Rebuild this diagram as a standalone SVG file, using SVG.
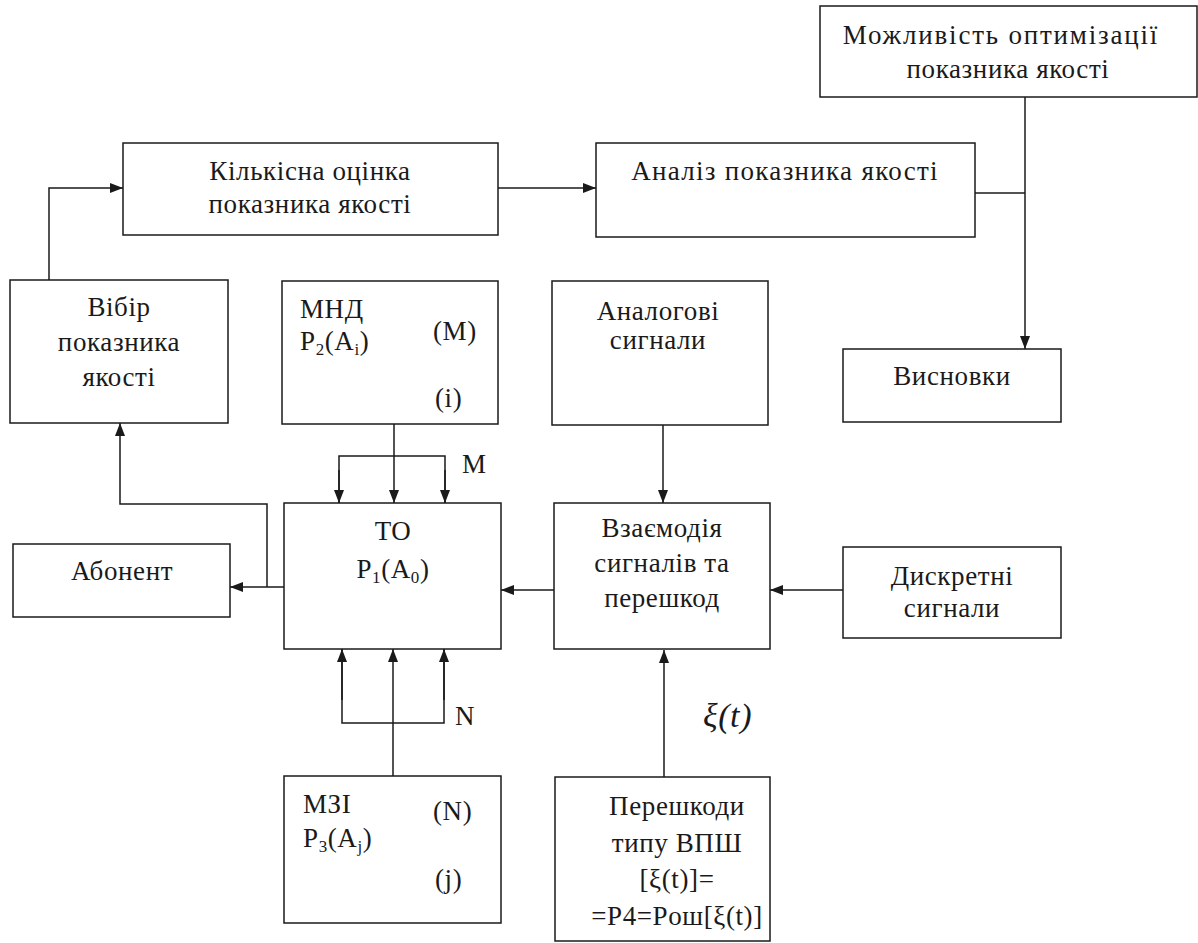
<svg xmlns="http://www.w3.org/2000/svg" width="1198" height="943" viewBox="0 0 1198 943">
<style>
.box{fill:#fff;stroke:#1a1a1a;stroke-width:1.5}
.ln{fill:none;stroke:#1a1a1a;stroke-width:1.5}
text{font-family:'Liberation Serif','DejaVu Serif','Noto Serif',serif;font-size:27px;fill:#1a1a1a;letter-spacing:0.6px}
.c{text-anchor:middle}
.sub{font-size:17px}
.wide{letter-spacing:1.8px}
</style>
<defs>
<marker id="ah" markerUnits="userSpaceOnUse" markerWidth="13" markerHeight="10" refX="13" refY="5" orient="auto">
<path d="M0,0 L13,5 L0,10 z" fill="#1a1a1a"/>
</marker>
</defs>
<rect width="1198" height="943" fill="#fff"/>
<g id="connectors">
<polyline class="ln" points="49,280 49,188 123,188" marker-end="url(#ah)"/>
<line class="ln" x1="498" y1="188" x2="596" y2="188" marker-end="url(#ah)"/>
<line class="ln" x1="975" y1="193" x2="1025" y2="193"/>
<line class="ln" x1="1025" y1="97" x2="1025" y2="349" marker-end="url(#ah)"/>
<line class="ln" x1="663" y1="425" x2="663" y2="503" marker-end="url(#ah)"/>
<line class="ln" x1="843" y1="590" x2="770" y2="590" marker-end="url(#ah)"/>
<line class="ln" x1="554" y1="590" x2="501" y2="590" marker-end="url(#ah)"/>
<line class="ln" x1="284" y1="587" x2="230" y2="587" marker-end="url(#ah)"/>
<polyline class="ln" points="267,587 267,504 120,504 120,423" marker-end="url(#ah)"/>
<line class="ln" x1="394" y1="424" x2="394" y2="503" marker-end="url(#ah)"/>
<polyline class="ln" points="339,503 339,456 445,456 445,503" />
<line class="ln" x1="339" y1="470" x2="339" y2="503" marker-end="url(#ah)"/>
<line class="ln" x1="445" y1="470" x2="445" y2="503" marker-end="url(#ah)"/>
<line class="ln" x1="393" y1="776" x2="393" y2="649" marker-end="url(#ah)"/>
<polyline class="ln" points="342,649 342,723 444,723 444,649"/>
<line class="ln" x1="342" y1="700" x2="342" y2="649" marker-end="url(#ah)"/>
<line class="ln" x1="444" y1="700" x2="444" y2="649" marker-end="url(#ah)"/>
<line class="ln" x1="664" y1="777" x2="664" y2="650" marker-end="url(#ah)"/>
<text x="462" y="473">M</text>
<text x="455" y="725">N</text>
<text x="703" y="727" style="font-style:italic;font-size:34px">ξ(t)</text>
</g>
<g id="n-mozhlyvist">
<rect class="box" x="820" y="6" width="377" height="91"/>
<text class="c wide" x="1001" y="44">Можливість оптимізації</text>
<text class="c" x="1008" y="78">показника якості</text>
</g>
<g id="n-kilkisna">
<rect class="box" x="123" y="143" width="375" height="92"/>
<text class="c" x="310" y="180">Кількісна оцінка</text>
<text class="c" x="310" y="213">показника якості</text>
</g>
<g id="n-analiz">
<rect class="box" x="596" y="143" width="379" height="94"/>
<text class="c" x="785" y="180" style="letter-spacing:1.3px">Аналіз показника якості</text>
</g>
<g id="n-vibir">
<rect class="box" x="10" y="280" width="218" height="143"/>
<text class="c" x="119" y="316">Вібір</text>
<text class="c" x="119" y="351">показника</text>
<text class="c" x="119" y="386">якості</text>
</g>
<g id="n-mnd">
<rect class="box" x="282" y="281" width="216" height="143"/>
<text x="300" y="318">МНД</text>
<text x="300" y="350">P<tspan class="sub" dy="5">2</tspan><tspan dy="-5">(A</tspan><tspan class="sub" dy="5">i</tspan><tspan dy="-5">)</tspan></text>
<text x="433" y="340">(M)</text>
<text x="435" y="407">(i)</text>
</g>
<g id="n-analogovi">
<rect class="box" x="552" y="281" width="216" height="144"/>
<text class="c" x="658" y="320">Аналогові</text>
<text class="c" x="658" y="349">сигнали</text>
</g>
<g id="n-vysnovky">
<rect class="box" x="843" y="349" width="218" height="73"/>
<text class="c" x="952" y="385">Висновки</text>
</g>
<g id="n-abonent">
<rect class="box" x="13" y="544" width="217" height="73"/>
<text class="c" x="122" y="580">Абонент</text>
</g>
<g id="n-to">
<rect class="box" x="284" y="503" width="217" height="146"/>
<text class="c" x="393" y="540">TO</text>
<text class="c" x="393" y="578">P<tspan class="sub" dy="5">1</tspan><tspan dy="-5">(A</tspan><tspan class="sub" dy="5">0</tspan><tspan dy="-5">)</tspan></text>
</g>
<g id="n-vzaiemodiia">
<rect class="box" x="554" y="503" width="216" height="146"/>
<text class="c" x="662" y="537">Взаємодія</text>
<text class="c" x="662" y="572">сигналів та</text>
<text class="c" x="662" y="607">перешкод</text>
</g>
<g id="n-dyskretni">
<rect class="box" x="843" y="547" width="218" height="91"/>
<text class="c" x="952" y="585">Дискретні</text>
<text class="c" x="952" y="617">сигнали</text>
</g>
<g id="n-mzi">
<rect class="box" x="284" y="776" width="217" height="147"/>
<text x="303" y="813">МЗІ</text>
<text x="303" y="847">P<tspan class="sub" dy="5">3</tspan><tspan dy="-5">(A</tspan><tspan class="sub" dy="5">j</tspan><tspan dy="-5">)</tspan></text>
<text x="433" y="820">(N)</text>
<text x="435" y="888">(j)</text>
</g>
<g id="n-pereshkody">
<rect class="box" x="555" y="777" width="215" height="164"/>
<text class="c" x="677" y="815">Перешкоди</text>
<text class="c" x="677" y="852">типу ВПШ</text>
<text class="c" x="677" y="888">[ξ(t)]=</text>
<text class="c" x="677" y="925">=P4=Pош[ξ(t)]</text>
</g>
</svg>
